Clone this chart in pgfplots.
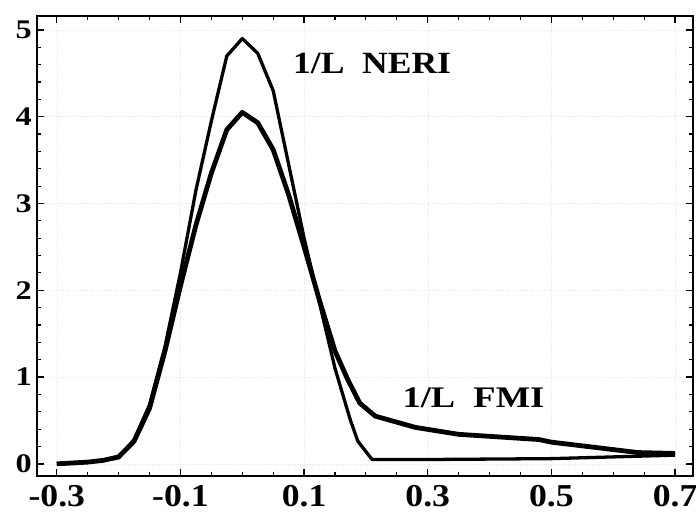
\documentclass[border=0pt]{standalone}
\usepackage{pgfplots}
\pgfplotsset{compat=1.18}
\usepackage{graphicx}
\usepackage{fontspec}
\setmainfont{Liberation Serif}

\pgfplotstableread{
x y
-0.3 0.0
-0.275 0.01
-0.25 0.02
-0.225 0.04
-0.2 0.07
-0.175 0.28
-0.15 0.68
-0.125 1.35
-0.1 2.2
-0.075 3.15
-0.05 3.95
-0.025 4.7
0.0 4.9
0.025 4.73
0.05 4.3
0.075 3.45
0.1 2.6
0.125 1.85
0.15 1.1
0.175 0.5
0.187 0.26
0.21 0.05
0.3 0.05
0.5 0.06
0.7 0.1
}\neri

\pgfplotstableread{
x y
-0.3 0.0
-0.275 0.01
-0.25 0.02
-0.225 0.04
-0.2 0.08
-0.175 0.26
-0.15 0.64
-0.125 1.3
-0.1 2.05
-0.075 2.75
-0.05 3.35
-0.025 3.85
0.0 4.05
0.025 3.93
0.05 3.62
0.075 3.1
0.1 2.5
0.125 1.88
0.15 1.3
0.17 0.98
0.19 0.7
0.215 0.55
0.28 0.42
0.35 0.34
0.48 0.28
0.5 0.25
0.64 0.13
0.7 0.12
}\fmi

\newcommand{\xl}[1]{\scalebox{1.12}[1]{\fontsize{32}{32}\selectfont\bfseries #1}}
\newcommand{\yl}[1]{\scalebox{1.2}[1]{\fontsize{27}{27}\selectfont\bfseries #1}}

\begin{document}
\begin{tikzpicture}
\begin{axis}[
  scale only axis,
  width=656bp, height=460bp,
  xmin=-0.332, xmax=0.729,
  ymin=-0.14, ymax=5.16,
  xtick={-0.3,-0.1,0.1,0.3,0.5,0.7},
  xticklabels={\xl{-0.3},\xl{-0.1},\xl{0.1},\xl{0.3},\xl{0.5},\xl{0.7}},
  ytick={0,1,2,3,4,5},
  yticklabels={\yl{0},\yl{1},\yl{2},\yl{3},\yl{4},\yl{5}},
  minor x tick num=3,
  minor y tick num=4,
  tick align=inside,
  major tick length=7bp,
  minor tick length=4bp,
  every tick/.style={black, line width=1.4pt},
  minor tick style={line width=1.1pt},
  axis line style={line width=1.8pt},
  x tick label style={yshift=-7bp, inner sep=2bp},
  y tick label style={xshift=-3bp, inner sep=2bp},
  grid=major,
  major grid style={black!10, dotted, line width=0.5pt},
  /pgf/number format/assume math mode=true,
]
\addplot[black, line width=3.3pt, line join=round, no markers] table[x=x,y=y] {\neri};
\addplot[black, line width=4.8pt, line join=round, no markers] table[x=x,y=y] {\fmi};
\node[anchor=base west, inner sep=0pt] at (axis cs:0.082,4.50)
  {\scalebox{1.15}[1]{\fontsize{31}{31}\selectfont\bfseries 1/L\ \ NERI}};
\node[anchor=base west, inner sep=0pt] at (axis cs:0.259,0.645)
  {\scalebox{1.22}[1]{\fontsize{30}{30}\selectfont\bfseries 1/L\ \ FMI}};
\end{axis}
\path (current axis.south west) ++(-37bp,-42bp) coordinate (bl);
\path (current axis.north east) ++(3bp,16bp) coordinate (tr);
\pgfresetboundingbox
\path[use as bounding box] (bl) rectangle (tr);
\end{tikzpicture}
\end{document}
